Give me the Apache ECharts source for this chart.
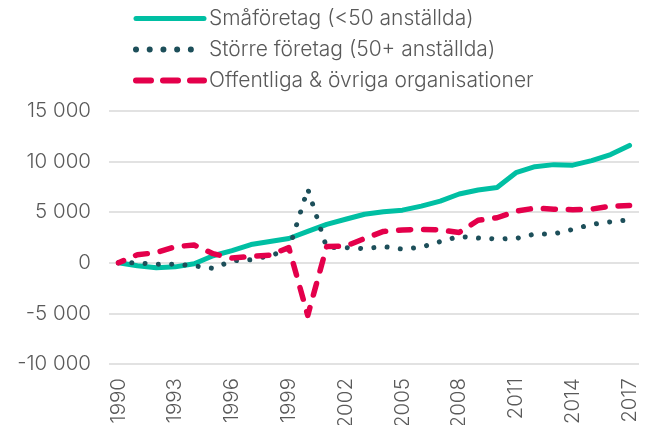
<!DOCTYPE html>
<html>
<head>
<meta charset="utf-8">
<script src="https://cdn.jsdelivr.net/npm/echarts@6/dist/echarts.min.js"></script>
<style>
  html, body { margin: 0; padding: 0; background: #fff; }
  #main { width: 650px; height: 425px; }
</style>
</head>
<body>
<div id="main"></div>
<script>
// years 1990-2017
var years = [];
for (var y = 1990; y <= 2017; y++) years.push(String(y));

var smaForetag = [0, -300, -500, -400, -100, 700, 1200, 1800, 2100, 2400,
  3100, 3800, 4300, 4800, 5050, 5200, 5600, 6100, 6800, 7200,
  7450, 8900, 9500, 9700, 9650, 10100, 10700, 11600];

var storreForetag = [0, 0, -150, -130, -300, -550, 200, 300, 700, 1300,
  7300, 1500, 1500, 1400, 1600, 1350, 1550, 2100, 2600, 2450,
  2350, 2400, 2850, 2850, 3300, 3800, 4050, 4250];

var offentliga = [0, 800, 1000, 1600, 1750, 900, 470, 650, 750, 1500,
  -5200, 1600, 1650, 2400, 3100, 3250, 3300, 3250, 3000, 4200,
  4450, 5100, 5400, 5300, 5250, 5300, 5600, 5650];

var seriesNames = ['Småföretag (<50 anställda)', 'Större företag (50+ anställda)', 'Offentliga & övriga organisationer'];

var textColor = '#595959';
var fontFam = 'Inter, "DejaVu Sans", sans-serif';

function fmt(v) {
  var s = String(Math.abs(v)).replace(/\B(?=(\d{3})+(?!\d))/g, ' ');
  return (v < 0 ? '-' : '') + s;
}

var myChart = echarts.init(document.getElementById('main'));

var option = {
  animation: false,
  legend: {
    orient: 'vertical',
    left: 128,
    top: 3,
    itemWidth: 68,
    itemHeight: 14,
    itemGap: 10,
    itemStyle: { opacity: 0 },
    lineStyle: { width: 'inherit' },
    textStyle: { color: textColor, fontSize: 21, fontFamily: fontFam, fontWeight: 300 },
    data: [
      { name: seriesNames[0] },
      { name: seriesNames[1], lineStyle: { width: 6, type: [0.01, 13.7], cap: 'round' } },
      { name: seriesNames[2], lineStyle: { width: 6, type: [15, 12], cap: 'round', dashOffset: 0 } }
    ]
  },
  grid: { left: 109, right: 11, top: 111, bottom: 61, containLabel: false, outerBoundsMode: 'none' },
  xAxis: {
    type: 'category',
    data: years,
    boundaryGap: true,
    axisLine: { show: false },
    axisTick: { show: false },
    axisLabel: {
      rotate: 90,
      interval: 2,
      margin: 14,
      color: textColor,
      fontSize: 20.5,
      fontFamily: fontFam,
      fontWeight: 300
    }
  },
  yAxis: {
    type: 'value',
    min: -10000,
    max: 15000,
    interval: 5000,
    axisLine: { show: false },
    axisTick: { show: false },
    splitLine: { lineStyle: { color: '#d9d9d9', width: 1.5 } },
    axisLabel: {
      margin: 18,
      color: textColor,
      fontSize: 20.5,
      fontFamily: fontFam,
      fontWeight: 300,
      formatter: fmt
    }
  },
  series: [
    {
      name: seriesNames[0],
      type: 'line',
      data: smaForetag,
      symbol: 'none',
      color: '#00bfa3',
      lineStyle: { width: 5, color: '#00bfa3', cap: 'round', join: 'round' }
    },
    {
      name: seriesNames[1],
      type: 'line',
      data: storreForetag,
      symbol: 'none',
      color: '#1d4f5a',
      lineStyle: { width: 5, color: '#1d4f5a', type: [0.01, 13.3], cap: 'round', join: 'round' }
    },
    {
      name: seriesNames[2],
      type: 'line',
      data: offentliga,
      symbol: 'none',
      color: '#e4004b',
      lineStyle: { width: 5.5, color: '#e4004b', type: [12, 13], dashOffset: 6.4, cap: 'round', join: 'round' }
    }
  ]
};

myChart.setOption(option);
</script>
</body>
</html>
